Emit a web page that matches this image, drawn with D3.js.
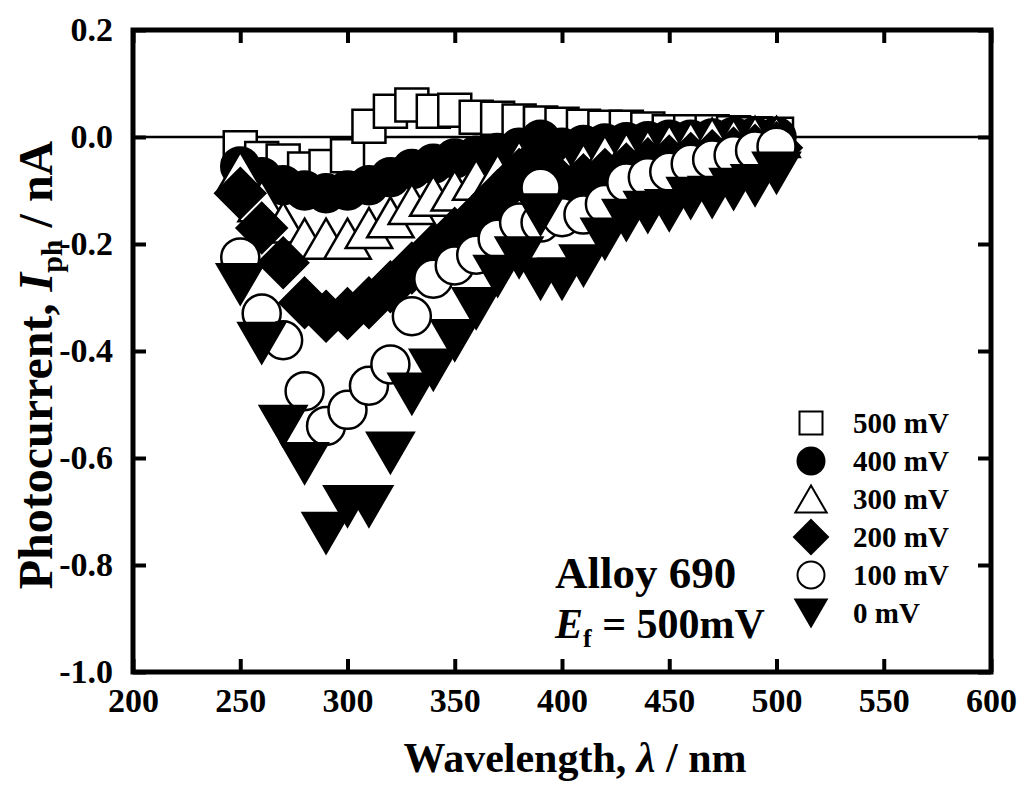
<!DOCTYPE html>
<html>
<head>
<meta charset="utf-8">
<script src="https://cdn.jsdelivr.net/npm/d3@7"></script>
<style>
  body { margin: 0; background: #fff; }
  svg { display: block; }
  text { font-family: "Liberation Serif", "Times New Roman", serif; font-weight: bold; fill: #000; }
</style>
</head>
<body>
<svg width="1027" height="787"></svg>
<script>
let width = 1027,
    height = 787;

// wavelengths (nm); the spectrum was taken in two scans that meet at 390 nm
let wavelength = [250, 260, 270, 280, 290, 300, 310, 320, 330, 340, 350, 360, 370, 380, 390,
                  390, 400, 410, 420, 430, 440, 450, 460, 470, 480, 490, 500];

let mv500 = [-0.02, -0.04, -0.045, -0.06, -0.055, -0.035, 0.02, 0.048, 0.06, 0.048, 0.05, 0.037, 0.035, 0.03, 0.025,
             0.026, 0.024, 0.02, 0.018, 0.018, 0.015, 0.01, 0.01, 0.01, 0.008, 0.006, 0.005];
let mv400 = [-0.055, -0.075, -0.09, -0.1, -0.105, -0.1, -0.09, -0.075, -0.06, -0.05, -0.04, -0.035, -0.03, -0.02, -0.005,
             -0.025, -0.02, -0.015, -0.012, -0.01, -0.008, -0.005, -0.005, -0.003, 0, 0, 0];
let mv300 = [-0.065, -0.12, -0.16, -0.19, -0.19, -0.19, -0.17, -0.15, -0.125, -0.11, -0.1, -0.08, -0.07, -0.045, -0.025,
             -0.07, -0.06, -0.05, -0.035, -0.03, -0.025, -0.015, -0.01, -0.003, -0.005, 0, 0];
let mv200 = [-0.105, -0.17, -0.235, -0.31, -0.335, -0.33, -0.31, -0.28, -0.245, -0.21, -0.18, -0.15, -0.11, -0.07, -0.035,
             -0.1, -0.09, -0.08, -0.07, -0.06, -0.05, -0.045, -0.04, -0.035, -0.03, -0.025, -0.02];
let mv100 = [-0.225, -0.33, -0.38, -0.475, -0.54, -0.51, -0.465, -0.425, -0.335, -0.265, -0.24, -0.22, -0.19, -0.16, -0.095,
             -0.16, -0.15, -0.145, -0.125, -0.085, -0.075, -0.065, -0.05, -0.042, -0.034, -0.025, -0.018];
let mv0 = [-0.275, -0.385, -0.54, -0.61, -0.74, -0.69, -0.69, -0.59, -0.48, -0.435, -0.38, -0.32, -0.26, -0.225, -0.145,
           -0.265, -0.265, -0.24, -0.19, -0.155, -0.14, -0.137, -0.114, -0.112, -0.097, -0.09, -0.067];

let seriesNames = ["500 mV", "400 mV", "300 mV", "200 mV", "100 mV", "0 mV"];
let seriesValues = [mv500, mv400, mv300, mv200, mv100, mv0];
let seriesSymbols = ["square", "circle", "triangleUp", "diamond", "circle", "triangleDown"];
let seriesFilled = [false, true, false, true, false, true];

let xTicks = [200, 250, 300, 350, 400, 450, 500, 550, 600];
let yTicks = [-1.0, -0.8, -0.6, -0.4, -0.2, 0.0, 0.2];
let yTickLabels = ["-1.0", "-0.8", "-0.6", "-0.4", "-0.2", "0.0", "0.2"];

let margin = {left: 133, right: 991, top: 30, bottom: 672};

let x = d3.scaleLinear().domain([200, 600]).range([margin.left, margin.right]);
let y = d3.scaleLinear().domain([-1.0, 0.2]).range([margin.bottom, margin.top]);

let svg = d3.select("svg");

// symbol paths, centred on their bounding box like the original plotting program
let symbolPath = (type, s) => {
    let p = d3.path();
    if (type === "square") {
        p.rect(-s / 2, -s / 2, s, s);
    } else if (type === "circle") {
        p.arc(0, 0, s / 2, 0, 2 * Math.PI);
    } else if (type === "triangleUp") {
        let w = s * 1.16, h = s;
        p.moveTo(0, -h / 2); p.lineTo(w / 2, h / 2); p.lineTo(-w / 2, h / 2); p.closePath();
    } else if (type === "triangleDown") {
        let w = s * 1.16, h = s;
        p.moveTo(-w / 2, -h / 2); p.lineTo(w / 2, -h / 2); p.lineTo(0, h / 2); p.closePath();
    } else if (type === "diamond") {
        p.moveTo(0, -s / 2); p.lineTo(s / 2, 0); p.lineTo(0, s / 2); p.lineTo(-s / 2, 0); p.closePath();
    }
    return p.toString();
};

let plotSize = {square: 33, circle: 38, triangleUp: 40, triangleDown: 40, diamond: 50};
let legendSize = {square: 23, circle: 27, triangleUp: 27, triangleDown: 27, diamond: 34};

// zero line
svg.append("line")
    .attr("x1", margin.left).attr("x2", margin.right)
    .attr("y1", y(0)).attr("y2", y(0))
    .attr("stroke", "black").attr("stroke-width", 2.5);

// data
seriesValues.forEach((vals, i) => {
    let pts = wavelength.map((w, j) => ({w: w, v: vals[j]}));
    svg.append("g")
        .selectAll("path")
        .data(pts)
        .enter().append("path")
        .attr("d", symbolPath(seriesSymbols[i], plotSize[seriesSymbols[i]]))
        .attr("transform", d => `translate(${x(d.w)},${y(d.v)})`)
        .attr("fill", seriesFilled[i] ? "black" : "white")
        .attr("stroke", "black")
        .attr("stroke-width", 2.5);
});

// axes
let fontSize = 34;

let xAxis = svg.append("g")
    .attr("transform", `translate(0,${margin.bottom})`)
    .call(d3.axisBottom(x).tickValues(xTicks).tickFormat(d3.format("d"))
        .tickSizeInner(-13).tickSizeOuter(0).tickPadding(16));

let xAxisTop = svg.append("g")
    .attr("transform", `translate(0,${margin.top})`)
    .call(d3.axisTop(x).tickValues(xTicks).tickFormat("")
        .tickSizeInner(-13).tickSizeOuter(0));

let yAxis = svg.append("g")
    .attr("transform", `translate(${margin.left},0)`)
    .call(d3.axisLeft(y).tickValues(yTicks).tickFormat((d, i) => yTickLabels[i])
        .tickSizeInner(-13).tickSizeOuter(0).tickPadding(20));

let yAxisRight = svg.append("g")
    .attr("transform", `translate(${margin.right},0)`)
    .call(d3.axisRight(y).tickValues(yTicks).tickFormat("")
        .tickSizeInner(-13).tickSizeOuter(0));

[xAxis, xAxisTop, yAxis, yAxisRight].forEach(g => {
    g.select(".domain").remove();
    g.selectAll(".tick line").attr("stroke", "black").attr("stroke-width", 4);
    g.selectAll(".tick text")
        .attr("font-family", "Liberation Serif")
        .attr("font-weight", "bold")
        .attr("font-size", fontSize)
        .attr("fill", "black");
});

// frame
svg.append("rect")
    .attr("x", margin.left).attr("y", margin.top)
    .attr("width", margin.right - margin.left)
    .attr("height", margin.bottom - margin.top)
    .attr("fill", "none").attr("stroke", "black").attr("stroke-width", 5);

// axis titles
let xTitle = svg.append("text")
    .attr("x", 575).attr("y", 772)
    .attr("text-anchor", "middle")
    .attr("font-size", 42);
xTitle.append("tspan").text("Wavelength, ");
xTitle.append("tspan").attr("font-style", "italic").text("λ");
xTitle.append("tspan").text(" / nm");

let yTitle = svg.append("text")
    .attr("transform", `translate(52,${(margin.top + margin.bottom) / 2 + 14}) rotate(-90)`)
    .attr("text-anchor", "middle")
    .attr("font-size", 48);
yTitle.append("tspan").text("Photocurrent, ");
yTitle.append("tspan").attr("font-style", "italic").text("I");
yTitle.append("tspan").attr("font-size", 30).attr("dy", 10).text("ph");
yTitle.append("tspan").attr("dy", -10).text(" / nA");

// annotation
svg.append("text")
    .attr("x", 555).attr("y", 588)
    .attr("font-size", 45)
    .text("Alloy 690");

let ef = svg.append("text")
    .attr("x", 555).attr("y", 638)
    .attr("font-size", 42);
ef.append("tspan").attr("font-style", "italic").text("E");
ef.append("tspan").attr("font-size", 26).attr("dy", 9).text("f");
ef.append("tspan").attr("dy", -9).text(" = 500mV");

// legend
let legend = svg.append("g");
let legendX = 811,
    legendY = 423,
    legendStep = 38;

seriesNames.forEach((name, i) => {
    let row = legend.append("g")
        .attr("transform", `translate(${legendX},${legendY + i * legendStep})`);
    row.append("path")
        .attr("d", symbolPath(seriesSymbols[i], legendSize[seriesSymbols[i]]))
        .attr("fill", seriesFilled[i] ? "black" : "white")
        .attr("stroke", "black")
        .attr("stroke-width", 2);
    row.append("text")
        .attr("x", 42)
        .attr("y", 10)
        .attr("font-size", 29)
        .text(name);
});
</script>
</body>
</html>
